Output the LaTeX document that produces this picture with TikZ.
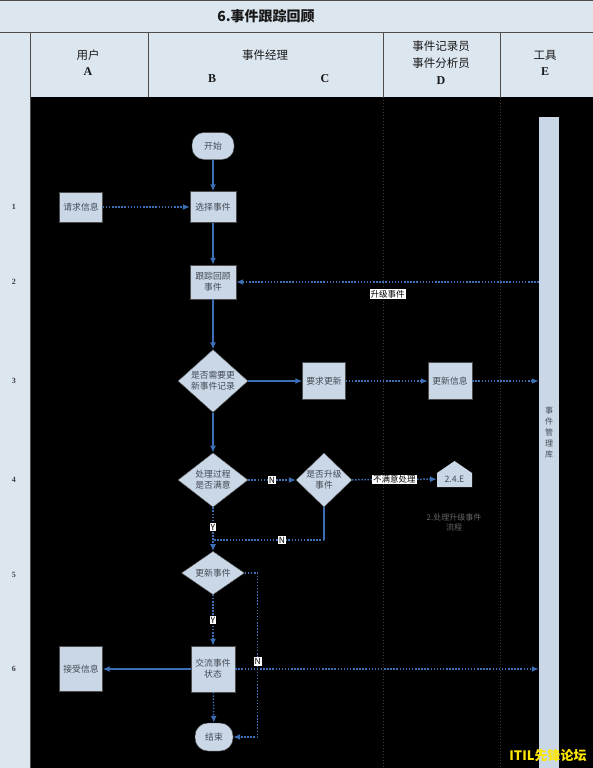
\documentclass[tikz,border=0pt]{standalone}
\usepackage{fontspec}
\setmainfont{Liberation Serif}
\newfontfamily\cjk{Noto Sans CJK SC}
\usetikzlibrary{shapes.geometric,arrows.meta}
\definecolor{hdrbg}{HTML}{DCE6EF}
\definecolor{nodefill}{HTML}{C9D7E6}
\definecolor{nodetext}{HTML}{454A55}
\definecolor{flow}{HTML}{3D6FB6}
\definecolor{grid}{HTML}{3A3A3A}
\tikzset{
  nfont/.style={font=\cjk\fontsize{8.8}{11}\selectfont},
  proc/.style={draw=gray!60!black, fill=nodefill, text=nodetext, nfont, align=center, inner sep=1pt, line width=0.4pt},
  term/.style={proc, rounded corners=12pt, minimum width=42pt, minimum height=27pt},
  dec/.style={proc, diamond, inner sep=0pt},
  sol/.style={draw=flow, line width=1.4pt, -{Latex[length=7pt,width=6pt]}},
  dot/.style={draw=flow, line width=1.5pt, dash pattern=on 1.5pt off 1.6pt, -{Latex[length=7pt,width=6pt]}},
  lbl/.style={fill=white, text=black, inner sep=1pt, font=\cjk\fontsize{8.5}{10}\selectfont},
  hdr/.style={font=\cjk\fontsize{11.5}{13}\selectfont, text=black!90},
  hlet/.style={font=\bfseries\fontsize{12}{13}\selectfont, text=black!90},
  rown/.style={font=\bfseries\fontsize{8}{9}\selectfont, text=black!75},
  gline/.style={draw=grid, line width=0.8pt, dash pattern=on 1pt off 2pt}
}
\begin{document}
\begin{tikzpicture}[x=1pt,y=-1pt]
\useasboundingbox (0,0) rectangle (593,768);
% backgrounds
\fill[hdrbg] (0,0) rectangle (593,768);
\fill[black] (30,97) rectangle (593,768);
% header lines
\draw[black!70, line width=0.8pt] (0,0.5) -- (593,0.5);
\draw[black!70, line width=0.8pt] (0,32) -- (593,32);
\draw[black!70, line width=0.8pt] (30,32) -- (30,768);
\draw[black!70, line width=0.8pt] (148,32) -- (148,97);
\draw[black!70, line width=0.8pt] (383,32) -- (383,97);
\draw[black!70, line width=0.8pt] (500,32) -- (500,97);
\draw[gline] (383,97) -- (383,768);
\draw[gline] (500,97) -- (500,768);
% title
\node[font=\cjk\bfseries\fontsize{14}{16}\selectfont, text=black!90] (title) at (266,16) {6.事件跟踪回顾};
% header texts
\node[hdr] (hA) at (88,55) {用户};
\node[hlet] (lA) at (88,72) {A};
\node[hdr] (hBC) at (265,55) {事件经理};
\node[hlet] (lB) at (212,79) {B};
\node[hlet] (lC) at (325,79) {C};
\node[hdr] (hD1) at (441,46) {事件记录员};
\node[hdr] (hD2) at (441,63) {事件分析员};
\node[hlet] (lD) at (441,81) {D};
\node[hdr] (hE) at (545,55) {工具};
\node[hlet] (lE) at (545,72) {E};
% row numbers
\node[rown] (r1) at (14,207) {1};
\node[rown] (r2) at (14,282) {2};
\node[rown] (r3) at (14,381) {3};
\node[rown] (r4) at (14,480) {4};
\node[rown] (r5) at (14,575) {5};
\node[rown] (r6) at (14,669) {6};
% library
\node[proc, draw=none, minimum width=20pt, minimum height=651pt, inner sep=0pt] (lib) at (549,442.5) {};
\node[text=nodetext, align=center, font=\cjk\fontsize{8}{11}\selectfont] (libt) at (549,432) {事\\件\\管\\理\\库};
% nodes
\node[term] (start) at (213,146) {开始};
\node[proc, minimum width=46pt, minimum height=31pt] (sel) at (213,207) {选择事件};
\node[proc, minimum width=43pt, minimum height=30pt] (req) at (81,207) {请求信息};
\node[proc, minimum width=46pt, minimum height=34pt] (track) at (213,282) {跟踪回顾\\事件};
\node[dec, minimum width=70pt, minimum height=52pt] (d3) at (213,381) {是否需要更\\新事件记录};
\node[proc, minimum width=43pt, minimum height=37pt] (upd) at (324,381) {要求更新};
\node[proc, minimum width=44pt, minimum height=37pt] (info) at (450,381) {更新信息};
\node[dec, minimum width=70pt, minimum height=46pt] (d4) at (213,480) {处理过程\\是否满意};
\node[dec, minimum width=56pt, minimum height=47pt] (d5) at (324,480) {是否升级\\事件};
% off-page reference (house shape)
\fill[nodefill] (437,487) -- (437,473) -- (454.5,461) -- (472,473) -- (472,487) -- cycle;
\node[nfont, text=nodetext, minimum width=35pt, minimum height=20pt, inner sep=0pt] (ref) at (454.5,479) {2.4.E};
\node[font=\cjk\fontsize{8}{10}\selectfont, text=black!60, align=center] (refnote) at (454,522) {2.处理升级事件\\流程};
\node[dec, minimum width=63pt, minimum height=42pt] (d6) at (213,573) {更新事件};
\node[proc, minimum width=44pt, minimum height=46pt] (comm) at (213,669) {交流事件\\状态};
\node[proc, minimum width=43pt, minimum height=45pt] (recv) at (81,669) {接受信息};
\node[term, minimum width=38pt, minimum height=28pt, rounded corners=13pt] (end) at (214,737) {结束};
\coordinate (j) at (213,540);
% connectors
\draw[sol] (start) -- (sel);
\draw[dot] (req) -- (sel);
\draw[sol] (sel) -- (track);
\draw[dot] (track -| lib.west) -- node[lbl, pos=0.5, yshift=-12pt] {升级事件} (track.east);
\draw[sol] (track) -- (d3);
\draw[sol] (d3) -- (upd);
\draw[dot] (upd) -- (info);
\draw[dot] (info) -- (info -| lib.west);
\draw[sol] (d3) -- (d4);
\draw[dot] (d4) -- node[lbl] {N} (d5);
\draw[dot] (d5) -- node[lbl] {不满意处理} (ref);
\draw[draw=flow, line width=1.4pt] (d5.south) -- (d5.south |- j);
\draw[dot, -] (d5.south |- j) -- node[lbl, pos=0.38] {N} (j);
\draw[dot] (d4) -- node[lbl, pos=0.45] {Y} (d6);
\draw[dot] (d6) -- node[lbl] {Y} (comm);
\draw[dot] (d6.east) -- ++(13,0) |- node[lbl, pos=0.27] {N} (end.east);
\draw[dot] (comm) -- (end);
\draw[sol] (comm) -- (recv);
\draw[dot] (comm) -- (comm -| lib.west);
% watermark
\node[font=\cjk\bfseries\fontsize{13}{14}\selectfont, text=yellow!90!orange] (wm) at (548,756) {ITIL先锋论坛};
\end{tikzpicture}
\end{document}
